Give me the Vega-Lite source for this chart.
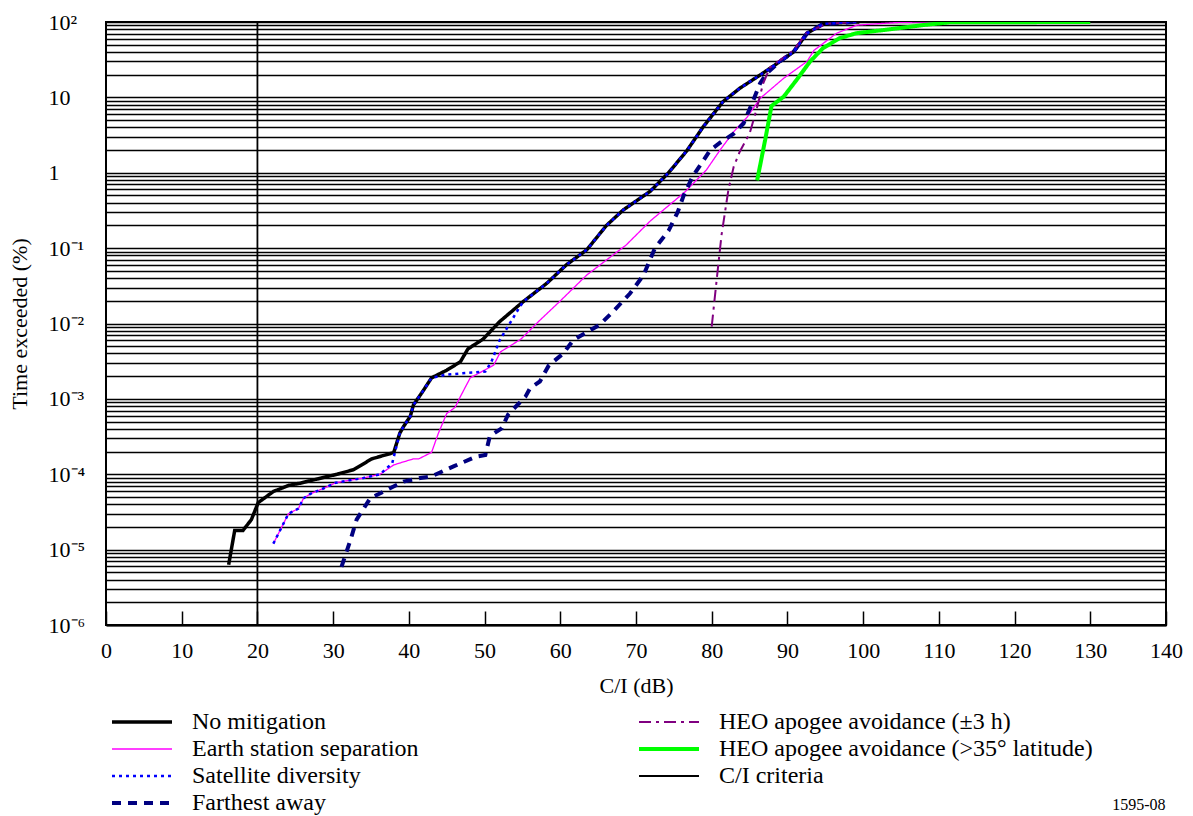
{
  "$schema": "https://vega.github.io/schema/vega-lite/v6.json",
  "width": 1060,
  "height": 603,
  "autosize": {"type": "none"},
  "padding": {"left": 106, "top": 22, "right": 27, "bottom": 191},
  "background": "white",
  "config": {
    "font": "Liberation Serif",
    "view": {"stroke": "black", "strokeWidth": 2}
  },
  "title": {"text": "1595-08", "orient": "bottom", "anchor": "end", "fontSize": 16, "fontWeight": "normal", "font": "Liberation Serif", "color": "black", "offset": -18, "dx": -17},
  "data": {
    "values": [
      {"s": "C/I criteria", "x": 20, "y": 0.000001},
      {"s": "C/I criteria", "x": 20, "y": 100},

      {"s": "No mitigation", "x": 16.2, "y": 0.0000063},
      {"s": "No mitigation", "x": 17.0, "y": 0.000018},
      {"s": "No mitigation", "x": 18.1, "y": 0.000018},
      {"s": "No mitigation", "x": 19.2, "y": 0.000025},
      {"s": "No mitigation", "x": 20.1, "y": 0.000042},
      {"s": "No mitigation", "x": 22.1, "y": 0.000059},
      {"s": "No mitigation", "x": 24.1, "y": 0.000071},
      {"s": "No mitigation", "x": 25.6, "y": 0.000076},
      {"s": "No mitigation", "x": 27.8, "y": 0.000086},
      {"s": "No mitigation", "x": 30.5, "y": 0.0001},
      {"s": "No mitigation", "x": 32.7, "y": 0.000115},
      {"s": "No mitigation", "x": 35.1, "y": 0.00016},
      {"s": "No mitigation", "x": 38.0, "y": 0.000194},
      {"s": "No mitigation", "x": 38.8, "y": 0.00035},
      {"s": "No mitigation", "x": 39.3, "y": 0.00043},
      {"s": "No mitigation", "x": 40.2, "y": 0.00059},
      {"s": "No mitigation", "x": 40.6, "y": 0.00083},
      {"s": "No mitigation", "x": 41.7, "y": 0.0012},
      {"s": "No mitigation", "x": 43.0, "y": 0.0019},
      {"s": "No mitigation", "x": 45.0, "y": 0.0024},
      {"s": "No mitigation", "x": 46.8, "y": 0.0031},
      {"s": "No mitigation", "x": 47.8, "y": 0.0046},
      {"s": "No mitigation", "x": 49.8, "y": 0.0062},
      {"s": "No mitigation", "x": 52.0, "y": 0.0106},
      {"s": "No mitigation", "x": 55.1, "y": 0.0195},
      {"s": "No mitigation", "x": 58.2, "y": 0.034},
      {"s": "No mitigation", "x": 60.8, "y": 0.06},
      {"s": "No mitigation", "x": 63.5, "y": 0.095},
      {"s": "No mitigation", "x": 66.1, "y": 0.2},
      {"s": "No mitigation", "x": 68.3, "y": 0.32},
      {"s": "No mitigation", "x": 71.9, "y": 0.57},
      {"s": "No mitigation", "x": 74.3, "y": 1.0},
      {"s": "No mitigation", "x": 76.7, "y": 1.95},
      {"s": "No mitigation", "x": 78.9, "y": 4.1},
      {"s": "No mitigation", "x": 81.5, "y": 8.8},
      {"s": "No mitigation", "x": 83.7, "y": 13.2},
      {"s": "No mitigation", "x": 86.4, "y": 19.8},
      {"s": "No mitigation", "x": 88.6, "y": 28},
      {"s": "No mitigation", "x": 90.8, "y": 40},
      {"s": "No mitigation", "x": 92.6, "y": 71},
      {"s": "No mitigation", "x": 94.7, "y": 94},
      {"s": "No mitigation", "x": 98.3, "y": 100},
      {"s": "No mitigation", "x": 99.5, "y": 100},

      {"s": "Earth station separation", "x": 22.1, "y": 0.000012},
      {"s": "Earth station separation", "x": 24.1, "y": 0.00003},
      {"s": "Earth station separation", "x": 25.4, "y": 0.000035},
      {"s": "Earth station separation", "x": 26.1, "y": 0.000048},
      {"s": "Earth station separation", "x": 27.0, "y": 0.000055},
      {"s": "Earth station separation", "x": 28.9, "y": 0.000066},
      {"s": "Earth station separation", "x": 30.3, "y": 0.000077},
      {"s": "Earth station separation", "x": 31.8, "y": 0.000082},
      {"s": "Earth station separation", "x": 34.0, "y": 0.000089},
      {"s": "Earth station separation", "x": 36.2, "y": 0.0001},
      {"s": "Earth station separation", "x": 38.0, "y": 0.000133},
      {"s": "Earth station separation", "x": 40.6, "y": 0.00016},
      {"s": "Earth station separation", "x": 41.3, "y": 0.00016},
      {"s": "Earth station separation", "x": 43.0, "y": 0.000195},
      {"s": "Earth station separation", "x": 43.9, "y": 0.00035},
      {"s": "Earth station separation", "x": 45.0, "y": 0.00064},
      {"s": "Earth station separation", "x": 46.1, "y": 0.00077},
      {"s": "Earth station separation", "x": 46.8, "y": 0.00107},
      {"s": "Earth station separation", "x": 48.1, "y": 0.0019},
      {"s": "Earth station separation", "x": 50.3, "y": 0.0025},
      {"s": "Earth station separation", "x": 51.2, "y": 0.0028},
      {"s": "Earth station separation", "x": 52.1, "y": 0.0042},
      {"s": "Earth station separation", "x": 54.8, "y": 0.0062},
      {"s": "Earth station separation", "x": 57.2, "y": 0.0108},
      {"s": "Earth station separation", "x": 59.9, "y": 0.0195},
      {"s": "Earth station separation", "x": 63.5, "y": 0.044},
      {"s": "Earth station separation", "x": 68.7, "y": 0.11},
      {"s": "Earth station separation", "x": 71.9, "y": 0.23},
      {"s": "Earth station separation", "x": 76.5, "y": 0.56},
      {"s": "Earth station separation", "x": 79.3, "y": 1.09},
      {"s": "Earth station separation", "x": 81.1, "y": 2.0},
      {"s": "Earth station separation", "x": 82.9, "y": 3.5},
      {"s": "Earth station separation", "x": 84.7, "y": 5.5},
      {"s": "Earth station separation", "x": 86.4, "y": 9.7},
      {"s": "Earth station separation", "x": 89.5, "y": 17.9},
      {"s": "Earth station separation", "x": 92.6, "y": 30},
      {"s": "Earth station separation", "x": 93.5, "y": 42},
      {"s": "Earth station separation", "x": 96.5, "y": 71},
      {"s": "Earth station separation", "x": 99.2, "y": 91},
      {"s": "Earth station separation", "x": 104.9, "y": 99},
      {"s": "Earth station separation", "x": 110, "y": 100},

      {"s": "Farthest away", "x": 31.1, "y": 0.0000059},
      {"s": "Farthest away", "x": 32.3, "y": 0.0000135},
      {"s": "Farthest away", "x": 33.1, "y": 0.000025},
      {"s": "Farthest away", "x": 34.9, "y": 0.000048},
      {"s": "Farthest away", "x": 37.1, "y": 0.000062},
      {"s": "Farthest away", "x": 39.3, "y": 0.00008},
      {"s": "Farthest away", "x": 41.5, "y": 0.000089},
      {"s": "Farthest away", "x": 42.9, "y": 0.000093},
      {"s": "Farthest away", "x": 45.9, "y": 0.000127},
      {"s": "Farthest away", "x": 48.8, "y": 0.00017},
      {"s": "Farthest away", "x": 50.1, "y": 0.00018},
      {"s": "Farthest away", "x": 50.7, "y": 0.00032},
      {"s": "Farthest away", "x": 52.3, "y": 0.00041},
      {"s": "Farthest away", "x": 53.1, "y": 0.00062},
      {"s": "Farthest away", "x": 55.4, "y": 0.00107},
      {"s": "Farthest away", "x": 56.0, "y": 0.00138},
      {"s": "Farthest away", "x": 57.3, "y": 0.0017},
      {"s": "Farthest away", "x": 58.5, "y": 0.0028},
      {"s": "Farthest away", "x": 60.4, "y": 0.004},
      {"s": "Farthest away", "x": 61.7, "y": 0.006},
      {"s": "Farthest away", "x": 65.2, "y": 0.0096},
      {"s": "Farthest away", "x": 67.0, "y": 0.0145},
      {"s": "Farthest away", "x": 69.2, "y": 0.025},
      {"s": "Farthest away", "x": 71.0, "y": 0.044},
      {"s": "Farthest away", "x": 72.5, "y": 0.1},
      {"s": "Farthest away", "x": 74.3, "y": 0.17},
      {"s": "Farthest away", "x": 75.5, "y": 0.3},
      {"s": "Farthest away", "x": 76.3, "y": 0.5},
      {"s": "Farthest away", "x": 77.5, "y": 0.9},
      {"s": "Farthest away", "x": 78.8, "y": 1.4},
      {"s": "Farthest away", "x": 79.8, "y": 2.0},
      {"s": "Farthest away", "x": 81.1, "y": 2.5},
      {"s": "Farthest away", "x": 82.9, "y": 3.3},
      {"s": "Farthest away", "x": 84.2, "y": 4.5},
      {"s": "Farthest away", "x": 85.5, "y": 9.2},
      {"s": "Farthest away", "x": 86.4, "y": 15.4},
      {"s": "Farthest away", "x": 87.3, "y": 21},
      {"s": "Farthest away", "x": 89.0, "y": 30},
      {"s": "Farthest away", "x": 90.8, "y": 40},
      {"s": "Farthest away", "x": 92.6, "y": 71},
      {"s": "Farthest away", "x": 94.7, "y": 94},
      {"s": "Farthest away", "x": 99.1, "y": 100},

      {"s": "HEO apogee avoidance (±3 h)", "x": 80.0, "y": 0.0091},
      {"s": "HEO apogee avoidance (±3 h)", "x": 80.7, "y": 0.042},
      {"s": "HEO apogee avoidance (±3 h)", "x": 81.3, "y": 0.15},
      {"s": "HEO apogee avoidance (±3 h)", "x": 82.2, "y": 0.59},
      {"s": "HEO apogee avoidance (±3 h)", "x": 82.9, "y": 1.2},
      {"s": "HEO apogee avoidance (±3 h)", "x": 83.7, "y": 1.9},
      {"s": "HEO apogee avoidance (±3 h)", "x": 85.0, "y": 3.3},
      {"s": "HEO apogee avoidance (±3 h)", "x": 85.9, "y": 6.8},
      {"s": "HEO apogee avoidance (±3 h)", "x": 86.8, "y": 15.4},
      {"s": "HEO apogee avoidance (±3 h)", "x": 87.7, "y": 25},
      {"s": "HEO apogee avoidance (±3 h)", "x": 89.0, "y": 31},
      {"s": "HEO apogee avoidance (±3 h)", "x": 90.8, "y": 42},
      {"s": "HEO apogee avoidance (±3 h)", "x": 92.6, "y": 73},
      {"s": "HEO apogee avoidance (±3 h)", "x": 95.2, "y": 95},
      {"s": "HEO apogee avoidance (±3 h)", "x": 99.6, "y": 100},

      {"s": "HEO apogee avoidance (>35° latitude)", "x": 86.0, "y": 0.79},
      {"s": "HEO apogee avoidance (>35° latitude)", "x": 87.05, "y": 2.7},
      {"s": "HEO apogee avoidance (>35° latitude)", "x": 87.9, "y": 7.7},
      {"s": "HEO apogee avoidance (>35° latitude)", "x": 89.5, "y": 10.2},
      {"s": "HEO apogee avoidance (>35° latitude)", "x": 91.2, "y": 17},
      {"s": "HEO apogee avoidance (>35° latitude)", "x": 93.0, "y": 30},
      {"s": "HEO apogee avoidance (>35° latitude)", "x": 94.7, "y": 45},
      {"s": "HEO apogee avoidance (>35° latitude)", "x": 96.9, "y": 61},
      {"s": "HEO apogee avoidance (>35° latitude)", "x": 99.1, "y": 71},
      {"s": "HEO apogee avoidance (>35° latitude)", "x": 102.6, "y": 78},
      {"s": "HEO apogee avoidance (>35° latitude)", "x": 107.9, "y": 91},
      {"s": "HEO apogee avoidance (>35° latitude)", "x": 111.4, "y": 99},
      {"s": "HEO apogee avoidance (>35° latitude)", "x": 130, "y": 100},

      {"s": "Satellite diversity", "x": 22.1, "y": 0.000012},
      {"s": "Satellite diversity", "x": 24.1, "y": 0.00003},
      {"s": "Satellite diversity", "x": 25.4, "y": 0.000035},
      {"s": "Satellite diversity", "x": 26.1, "y": 0.000048},
      {"s": "Satellite diversity", "x": 27.0, "y": 0.000055},
      {"s": "Satellite diversity", "x": 28.9, "y": 0.000066},
      {"s": "Satellite diversity", "x": 30.3, "y": 0.000077},
      {"s": "Satellite diversity", "x": 31.8, "y": 0.000082},
      {"s": "Satellite diversity", "x": 34.0, "y": 0.000089},
      {"s": "Satellite diversity", "x": 36.2, "y": 0.0001},
      {"s": "Satellite diversity", "x": 37.8, "y": 0.00014},
      {"s": "Satellite diversity", "x": 38.8, "y": 0.00035},
      {"s": "Satellite diversity", "x": 39.3, "y": 0.00043},
      {"s": "Satellite diversity", "x": 40.2, "y": 0.00059},
      {"s": "Satellite diversity", "x": 40.6, "y": 0.00083},
      {"s": "Satellite diversity", "x": 41.7, "y": 0.0012},
      {"s": "Satellite diversity", "x": 43.0, "y": 0.0019},
      {"s": "Satellite diversity", "x": 45.0, "y": 0.0021},
      {"s": "Satellite diversity", "x": 47.5, "y": 0.0022},
      {"s": "Satellite diversity", "x": 50.1, "y": 0.0023},
      {"s": "Satellite diversity", "x": 50.9, "y": 0.0031},
      {"s": "Satellite diversity", "x": 52.0, "y": 0.006},
      {"s": "Satellite diversity", "x": 54.2, "y": 0.014},
      {"s": "Satellite diversity", "x": 55.1, "y": 0.0195},
      {"s": "Satellite diversity", "x": 58.2, "y": 0.034},
      {"s": "Satellite diversity", "x": 60.8, "y": 0.06},
      {"s": "Satellite diversity", "x": 63.5, "y": 0.095},
      {"s": "Satellite diversity", "x": 66.1, "y": 0.2},
      {"s": "Satellite diversity", "x": 68.3, "y": 0.32},
      {"s": "Satellite diversity", "x": 71.9, "y": 0.57},
      {"s": "Satellite diversity", "x": 74.3, "y": 1.0},
      {"s": "Satellite diversity", "x": 76.7, "y": 1.95},
      {"s": "Satellite diversity", "x": 78.9, "y": 4.1},
      {"s": "Satellite diversity", "x": 81.5, "y": 8.8},
      {"s": "Satellite diversity", "x": 83.7, "y": 13.2},
      {"s": "Satellite diversity", "x": 86.4, "y": 19.8},
      {"s": "Satellite diversity", "x": 88.6, "y": 28},
      {"s": "Satellite diversity", "x": 90.8, "y": 40},
      {"s": "Satellite diversity", "x": 92.6, "y": 71},
      {"s": "Satellite diversity", "x": 94.7, "y": 94},
      {"s": "Satellite diversity", "x": 98.3, "y": 100},
      {"s": "Satellite diversity", "x": 99.5, "y": 100}
    ]
  },
  "mark": {"type": "line", "clip": true},
  "encoding": {
    "x": {
      "field": "x", "type": "quantitative",
      "scale": {"domain": [0, 140], "nice": false, "zero": false},
      "axis": {
        "values": [0, 10, 20, 30, 40, 50, 60, 70, 80, 90, 100, 110, 120, 130, 140],
        "title": "C/I (dB)", "grid": false,
        "tickSize": -14, "tickColor": "black", "tickWidth": 1.5,
        "domainColor": "black", "domainWidth": 2,
        "labelPadding": 29, "labelFontSize": 22, "labelFont": "Liberation Serif", "labelColor": "black", "labelFlush": false,
        "titleFont": "Liberation Serif", "titleFontSize": 22, "titleFontWeight": "normal", "titleColor": "black", "titlePadding": 14
      }
    },
    "y": {
      "field": "y", "type": "quantitative",
      "scale": {"type": "log", "domain": [0.000001, 100], "nice": false},
      "axis": {
        "values": [0.000001,0.000002,0.000003,0.000004,0.000005,0.000006,0.000007,0.000008,0.000009,
                   0.00001,0.00002,0.00003,0.00004,0.00005,0.00006,0.00007,0.00008,0.00009,
                   0.0001,0.0002,0.0003,0.0004,0.0005,0.0006,0.0007,0.0008,0.0009,
                   0.001,0.002,0.003,0.004,0.005,0.006,0.007,0.008,0.009,
                   0.01,0.02,0.03,0.04,0.05,0.06,0.07,0.08,0.09,
                   0.1,0.2,0.3,0.4,0.5,0.6,0.7,0.8,0.9,
                   1,2,3,4,5,6,7,8,9,
                   10,20,30,40,50,60,70,80,90,100],
        "labelExpr": "abs(log(datum.value)/LN10 - round(log(datum.value)/LN10)) > 0.001 ? '' : (round(log(datum.value)/LN10) == 2 ? '10²' : round(log(datum.value)/LN10) == 1 ? '10' : round(log(datum.value)/LN10) == 0 ? '1' : '10⁻' + ['','¹','²','³','⁴','⁵','⁶'][-round(log(datum.value)/LN10)])",
        "title": "Time exceeded (%)",
        "grid": true, "gridColor": "black", "gridWidth": 1.6, "gridOpacity": 1,
        "ticks": false, "tickSize": 0, "domain": false,
        "labelAlign": "left", "labelBaseline": "middle", "labelPadding": 58,
        "labelFontSize": 22, "labelFont": "Liberation Serif", "labelColor": "black",
        "labelOverlap": false, "labelBound": false, "labelFlush": false,
        "titleFont": "Liberation Serif", "titleFontSize": 22, "titleFontWeight": "normal", "titleColor": "black", "titlePadding": 17
      }
    },
    "color": {
      "field": "s", "type": "nominal",
      "scale": {
        "domain": ["No mitigation", "Earth station separation", "Satellite diversity", "Farthest away", "HEO apogee avoidance (±3 h)", "HEO apogee avoidance (>35° latitude)", "C/I criteria"],
        "range": ["#000000", "#FF00FF", "#0000FF", "#000080", "#800080", "#00FF00", "#000000"]
      },
      "legend": {
        "title": null, "orient": "none", "legendX": 24, "legendY": 688,
        "columns": 2, "columnPadding": 212, "rowPadding": 3,
        "symbolType": "M-3,0H3", "symbolSize": 400, "labelOffset": 38,
        "labelFont": "Liberation Serif", "labelFontSize": 24, "labelColor": "black", "labelLimit": 0, "padding": 0
      }
    },
    "strokeDash": {
      "field": "s", "type": "nominal",
      "scale": {
        "domain": ["No mitigation", "Earth station separation", "Satellite diversity", "Farthest away", "HEO apogee avoidance (±3 h)", "HEO apogee avoidance (>35° latitude)", "C/I criteria"],
        "range": [[1, 0], [1, 0], [3, 4], [9, 7], [12, 5, 3, 5], [1, 0], [1, 0]]
      },
      "legend": {
        "title": null, "orient": "none", "legendX": 24, "legendY": 688,
        "columns": 2, "columnPadding": 212, "rowPadding": 3,
        "symbolType": "M-3,0H3", "symbolSize": 400, "labelOffset": 38,
        "labelFont": "Liberation Serif", "labelFontSize": 24, "labelColor": "black", "labelLimit": 0, "padding": 0
      }
    },
    "strokeWidth": {
      "field": "s", "type": "nominal",
      "scale": {
        "type": "ordinal",
        "domain": ["No mitigation", "Earth station separation", "Satellite diversity", "Farthest away", "HEO apogee avoidance (±3 h)", "HEO apogee avoidance (>35° latitude)", "C/I criteria"],
        "range": [3.5, 1.3, 2.5, 4, 2, 4, 1.8]
      },
      "legend": {
        "title": null, "orient": "none", "legendX": 24, "legendY": 688,
        "columns": 2, "columnPadding": 212, "rowPadding": 3,
        "symbolType": "M-3,0H3", "symbolSize": 400, "labelOffset": 38,
        "labelFont": "Liberation Serif", "labelFontSize": 24, "labelColor": "black", "labelLimit": 0, "padding": 0
      }
    }
  }
}
